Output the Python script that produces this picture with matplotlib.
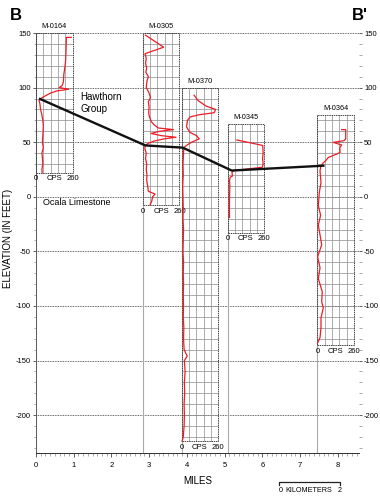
import matplotlib
matplotlib.use("Agg")
import matplotlib.pyplot as plt
from matplotlib import font_manager
from matplotlib.patches import Rectangle
from matplotlib.ticker import MultipleLocator
import numpy as np

# pick a narrow sans if there is one, else Arial-metric Liberation Sans
installed = {f.name for f in font_manager.fontManager.ttflist}
narrow = 'Liberation Sans Narrow' if 'Liberation Sans Narrow' in installed else 'Liberation Sans'
NARROW = [narrow, 'DejaVu Sans']
PLAIN = ['Liberation Sans', 'DejaVu Sans']
plt.rcParams['font.family'] = NARROW
plt.rcParams['axes.unicode_minus'] = False

# wells along the section (box left edge = well position, miles)
wells = ["M-0164", "M-0305", "M-0370", "M-0345", "M-0364"]
well_miles = [0.0, 2.83, 3.86, 5.08, 7.46]
box_top = [150, 150, 100, 67, 75]
box_bottom = [22, -8, -224, -33, -136]

# gamma-ray logs (elevation ft, counts per second)
m0164_elev = [146, 146, 135, 125, 118, 112, 105, 102, 100, 98.5, 97, 95, 92, 90, 88,
              85, 80, 75, 70, 65, 60, 55, 50, 45, 40, 35, 30, 25, 22]
m0164_cps = [250, 215, 213, 210, 204, 197, 194, 186, 165, 232, 150, 104, 60, 35, 22,
             28, 32, 42, 48, 52, 50, 48, 45, 52, 42, 46, 48, 42, 44]

m0305_elev = [148, 137, 131, 127, 122, 118, 114, 110, 106, 100, 95, 91, 87, 82, 77,
              73, 69, 66, 63, 61.5, 60, 58, 56, 54.5, 53, 51, 49, 47, 44, 40, 35,
              30, 25, 20, 15, 10, 5, 2.5, 0, -4, -7.5]
m0305_cps = [20, 148, 16, 25, 20, 28, 22, 40, 30, 25, 45, 55, 40, 45, 42,
             48, 60, 80, 110, 218, 120, 60, 130, 236, 150, 80, 40, 18, 15, 25, 20,
             28, 25, 30, 28, 35, 40, 87, 70, 64, 52]

m0370_elev = [93, 88, 83, 80, 77, 75, 73, 70, 64, 59, 56, 53, 50, 47, 45, 40, 30,
              20, 10, 0, -10, -20, -30, -40, -50, -60, -70, -80, -90, -100, -110,
              -120, -130, -140, -146, -150, -160, -170, -180, -190, -200, -210,
              -220, -224]
m0370_cps = [89, 118, 175, 241, 231, 120, 59, 42, 35, 59, 106, 125, 71, 35, 16, 14, 10,
             12, 8, 10, 12, 10, 14, 12, 10, 14, 12, 14, 12, 14, 12,
             16, 14, 18, 40, 20, 25, 20, 22, 18, 20, 18,
             12, 4]

m0345_elev = [52, 47, 40, 35, 30, 28, 27, 24, 22, 19, 18, 15, 10, 0, -10, -19]
m0345_cps = [66, 249, 252, 248, 252, 249, 245, 42, 31, 35, 19, 14, 16, 14, 13, 14]

m0364_elev = [61.5, 61.5, 53, 51.4, 49.8, 47.4, 45.2, 40.6, 39.1, 36, 33, 31, 28.4,
              23.8, 13, 3.9, -8, -17, -26, -35, -44, -55, -65, -75, -87, -96,
              -102, -111, -120, -129, -134]
m0364_cps = [173, 201, 201, 190, 113, 173, 159, 161, 137, 78, 59, 42, 26,
             19, 26, 14, 7, 23, 7, 19, 31, 2, 19, 7, 35, 31,
             42, 26, 26, 19, 2]

logs = [(m0164_elev, m0164_cps), (m0305_elev, m0305_cps), (m0370_elev, m0370_cps),
        (m0345_elev, m0345_cps), (m0364_elev, m0364_cps)]

# top of Ocala Limestone picked on each log
contact_miles = [0.08, 2.90, 3.89, 5.19, 7.65]
contact_elev = [90, 47, 45, 24, 28.5]

CPS_MAX = 260
BOX_W = 0.973  # width of a log track in miles
SMALL = 5.5

fig = plt.figure(figsize=(3.8, 4.99), dpi=100)
ax = fig.add_axes([36 / 380, 1 - 453.3 / 499, 323 / 380, 420.3 / 499])
ax.set_xlim(0, 8.565)
ax.set_ylim(-235, 150)

# elevation grid
for y in range(-200, 151, 50):
    ax.axhline(y, color='#333333', lw=0.6, ls=(0, (1, 1)), zorder=1, clip_on=False)

ylo = ax.get_ylim()[0]
for i, name in enumerate(wells):
    x0 = well_miles[i]
    top, bot = box_top[i], box_bottom[i]
    # well line down to the base of the section
    ax.plot([x0, x0], [ylo, top], color='#aaaaaa', lw=0.8, zorder=1)
    # track grid
    for c in range(52, CPS_MAX, 52):
        xc = x0 + c / CPS_MAX * BOX_W
        ax.plot([xc, xc], [bot, top], color='#8c8c8c', lw=0.5, zorder=2)
    for y in np.arange(np.ceil(bot / 10) * 10, top, 10):
        if y <= bot:
            continue
        ax.plot([x0, x0 + BOX_W], [y, y], color='#8c8c8c', lw=0.5, zorder=2)
    ax.add_patch(Rectangle((x0, bot), BOX_W, top - bot, fill=False,
                           edgecolor='#444444', lw=0.7, ls=(0, (1.5, 0.8)), zorder=3))
    # log trace
    el, cps = logs[i]
    ax.plot(x0 + np.array(cps) / CPS_MAX * BOX_W, el, color='#ee1c24', lw=0.9, zorder=4)
    # labels
    ax.text(x0 + BOX_W / 2, top + 2.5, name, ha='center', va='bottom', fontsize=5.3)
    ax.text(x0, bot - 5.5, "0", ha='center', va='center', fontsize=SMALL)
    ax.text(x0 + BOX_W / 2, bot - 5.5, "CPS", ha='center', va='center', fontsize=SMALL)
    ax.text(x0 + BOX_W, bot - 5.5, "260", ha='center', va='center', fontsize=SMALL)

ax.plot(contact_miles, contact_elev, color='#111111', lw=1.7, zorder=5,
        solid_capstyle='butt')

ax.text(1.17, 96, "Hawthorn\nGroup", ha='left', va='top', fontsize=7,
        family=PLAIN, linespacing=1.25)
ax.text(0.19, -5.5, "Ocala Limestone", ha='left', va='center', fontsize=6.5,
        family=PLAIN)

# axes styling
for s in ['top', 'right']:
    ax.spines[s].set_visible(False)
ax.spines['left'].set_color('#555555')
ax.spines['left'].set_linewidth(0.6)
ax.spines['bottom'].set_color('#333333')
ax.spines['bottom'].set_linewidth(0.7)
ax.spines['bottom'].set_linestyle((0, (1, 0.8)))

ax.set_xticks(range(0, 9))
ax.xaxis.set_minor_locator(MultipleLocator(0.125))
ax.set_yticks(range(-200, 151, 50))
ax.yaxis.set_minor_locator(MultipleLocator(10))
ax.tick_params(axis='both', which='major', labelsize=SMALL, length=3, width=0.6,
               color='#444444', pad=2)
ax.tick_params(axis='both', which='minor', length=1.8, width=0.5, color='#888888')
ax.tick_params(axis='y', which='both', right=True, labelright=True)
ax.tick_params(axis='y', which='major', pad=1.2, length=2.5)
ax.tick_params(axis='x', which='major', pad=3)

ax.set_xlabel("MILES", fontsize=7, labelpad=5)
fig.text(8 / 380, 1 - 238 / 499, "ELEVATION (IN FEET)", rotation=90,
         ha='center', va='center', fontsize=7)

fig.text(16 / 380, 1 - 15 / 499, "B", ha='center', va='center', fontsize=12,
         fontweight='bold', family=PLAIN)
fig.text(360 / 380, 1 - 15 / 499, "B'", ha='center', va='center', fontsize=12,
         fontweight='bold', family=PLAIN)

# kilometer scale bar
sb_x = [6.45, 8.06]
sb_y = -261.5
ax.plot([sb_x[0], sb_x[0], sb_x[1], sb_x[1]], [sb_y - 2.5, sb_y, sb_y, sb_y - 2.5],
        color='#222222', lw=0.9, clip_on=False)
ax.text(6.49, -269.5, "0", ha='center', va='center', fontsize=5.2, clip_on=False)
ax.text(7.24, -269.5, "KILOMETERS", ha='center', va='center', fontsize=5.2, clip_on=False)
ax.text(8.06, -269.5, "2", ha='center', va='center', fontsize=5.2, clip_on=False)

fig.savefig("out.png", dpi=100)
